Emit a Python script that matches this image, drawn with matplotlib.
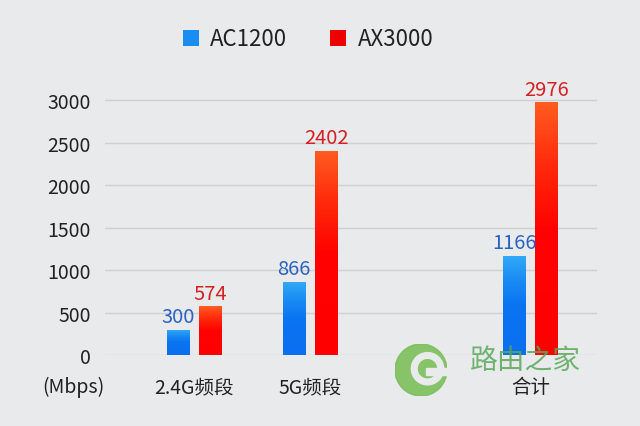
import matplotlib.pyplot as plt
import numpy as np
from matplotlib.colors import LinearSegmentedColormap
from matplotlib.patches import Rectangle, Circle, Wedge

plt.rcParams['font.family'] = ['Noto Sans CJK SC', 'DejaVu Sans']

# 数据
categories = ['2.4G频段', '5G频段', '合计']
ac1200 = [300, 866, 1166]
ax3000 = [574, 2402, 2976]
series_names = ['AC1200', 'AX3000']
yticks = [0, 500, 1000, 1500, 2000, 2500, 3000]

# 组的位置(不等间距)
xpos = np.array([0, 1, 2.9])
bar_w = 0.19
offset = 0.138

bg = '#e9eaec'
fig = plt.figure(figsize=(6.4, 4.27), dpi=100, facecolor=bg)
ax = fig.add_axes([0.164, 0.166, 0.769, 0.647], facecolor=bg)

# 网格线
for t in yticks:
    ax.axhline(t, color='#cfd0d2', linewidth=1.0, zorder=0)

blue_cmap = LinearSegmentedColormap.from_list(
    'b', [(0, '#0a6ff0'), (0.5, '#0b74f1'), (0.75, '#1a8cf4'), (1, '#33aaf6')])
red_cmap = LinearSegmentedColormap.from_list(
    'r', [(0, '#ff0000'), (0.5, '#ff0200'), (0.75, '#ff2a0c'), (1, '#ff5c20')])
grad = np.linspace(0, 1, 256).reshape(-1, 1)


def gradient_bar(x, h, cmap):
    """画一个渐变色柱子"""
    rect = Rectangle((x - bar_w / 2, 0), bar_w, h, facecolor='none', edgecolor='none')
    ax.add_patch(rect)
    im = ax.imshow(grad, cmap=cmap, origin='lower', aspect='auto',
                   extent=(x - bar_w / 2, x + bar_w / 2, 0, h), zorder=2)
    im.set_clip_path(rect)


for i in range(len(categories)):
    xb = xpos[i] - offset
    xr = xpos[i] + offset
    gradient_bar(xb, ac1200[i], blue_cmap)
    gradient_bar(xr, ax3000[i], red_cmap)
    ax.text(xb, ac1200[i] + 30, str(ac1200[i]), ha='center', va='bottom',
            color='#2a62c2', fontsize=14.5)
    ax.text(xr, ax3000[i] + 30, str(ax3000[i]), ha='center', va='bottom',
            color='#d42222', fontsize=14.5)

ax.set_xlim(-0.767, 3.474)
ax.set_ylim(0, 3250)

ax.set_yticks(yticks)
ax.set_yticklabels([str(t) for t in yticks], fontsize=14, color='#222222')
ax.set_xticks(xpos)
ax.set_xticklabels(categories, fontsize=14, color='#222222')
ax.tick_params(axis='both', length=0)
ax.tick_params(axis='y', pad=10)
ax.tick_params(axis='x', pad=15)
for s in ax.spines.values():
    s.set_visible(False)

fig.text(73 / 640, 1 - 387 / 427, '(Mbps)', ha='center', va='center',
         fontsize=14, color='#222222')

# 图例
fig.patches.append(Rectangle((183 / 640, 1 - 47 / 427), 16 / 640, 16 / 427,
                             transform=fig.transFigure, facecolor='#1a8ef0',
                             edgecolor='none'))
fig.text(210 / 640, 1 - 39 / 427, series_names[0], ha='left', va='center',
         fontsize=16, color='#222222')
fig.patches.append(Rectangle((330 / 640, 1 - 47 / 427), 16 / 640, 16 / 427,
                             transform=fig.transFigure, facecolor='#ee0000',
                             edgecolor='none'))
fig.text(358 / 640, 1 - 39 / 427, series_names[1], ha='left', va='center',
         fontsize=16, color='#222222')

# 水印
wm = fig.add_axes([395 / 640, 1 - 397 / 427, 52 / 640, 52 / 427])
wm.set_xlim(-1, 1)
wm.set_ylim(-1, 1)
wm.set_aspect('equal')
wm.axis('off')
wm.add_patch(Circle((0, 0), 1.0, color='#7cbf5a', alpha=0.9))
wm.add_patch(Wedge((0.25, 0.05), 0.62, 0, 360, width=0.22, color=bg))
wm.add_patch(Rectangle((0.2, -0.2), 0.9, 0.28, color=bg))
fig.text(525 / 640, 1 - 361 / 427, '路由之家', ha='center', va='center',
         fontsize=20, color='#5aa85a', alpha=0.85)

fig.savefig('out.png', dpi=100, facecolor=bg)
